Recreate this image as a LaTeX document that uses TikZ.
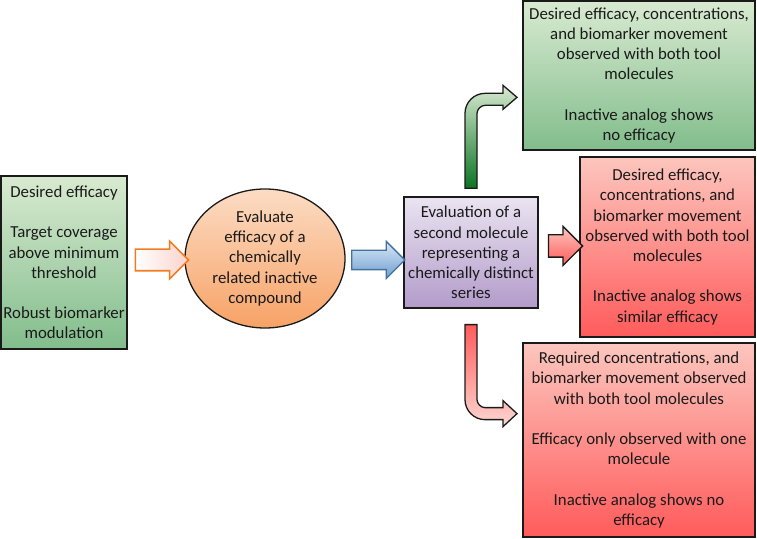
\documentclass[tikz,border=0pt]{standalone}
\usepackage{fontspec}
\setmainfont{Carlito}
\usepackage{tikz}
\usetikzlibrary{calc,shapes.geometric,shapes.arrows}
\definecolor{ink}{HTML}{1A1A1A}
\definecolor{greentop}{HTML}{D8EAD0}
\definecolor{greenbot}{HTML}{82BD8C}
\definecolor{peachtop}{HTML}{FCDCC4}
\definecolor{peachbot}{HTML}{F7A266}
\definecolor{lilactop}{HTML}{EAE4F1}
\definecolor{lilacbot}{HTML}{B39BCA}
\definecolor{redtop}{HTML}{FCC6BE}
\definecolor{redbot}{HTML}{FF5B5B}
\definecolor{orangeline}{HTML}{F27C22}
\definecolor{orangefill}{HTML}{FBD3CB}
\definecolor{blueline}{HTML}{41719C}
\definecolor{bluetop}{HTML}{D8E7F6}
\definecolor{bluebot}{HTML}{6E9FD0}
\definecolor{darkgreen}{HTML}{0A7424}
\newcommand{\boxfont}{\fontsize{16.8}{20.2}\selectfont}
\tikzset{
  box/.style={draw=ink, line width=1.3pt, align=center, inner sep=0pt, text=ink, font=\boxfont},
  greenbox/.style={box, top color=greentop, bottom color=greenbot},
  redbox/.style={box, top color=redtop, bottom color=redbot},
  lilacbox/.style={box, top color=lilactop, bottom color=lilacbot},
  peachblob/.style={box, ellipse, top color=peachtop, bottom color=peachbot},
  fatarrow/.style={single arrow, inner xsep=0pt, inner ysep=10pt, single arrow head extend=8pt, line width=1.3pt},
  bentarrow/.style={draw=ink, line width=1.3pt, line join=miter},
}

\begin{document}
\begin{tikzpicture}[x=1pt,y=1pt]
  \useasboundingbox (0,0) rectangle (757,538);

  \node[greenbox, minimum width=126pt, minimum height=173pt] (start) at (64,275.5)
    {Desired efficacy\\[20.2pt]Target coverage\\above minimum\\threshold\\[20.2pt]Robust biomarker\\modulation};
  \node[peachblob, minimum width=160pt, minimum height=139pt] (inactive) at (265,279.5)
    {Evaluate\\efficacy of a\\chemically\\related inactive\\compound};
  \node[lilacbox, minimum width=134pt, minimum height=111pt] (second) at (471,285.5)
    {Evaluation of a\\second molecule\\representing a\\chemically distinct\\series};

  \node[greenbox, minimum width=232pt, minimum height=149pt] (both) at (639,462.5)
    {Desired efficacy, concentrations,\\and biomarker movement\\observed with both tool\\molecules\\[20.2pt]Inactive analog shows\\no efficacy};
  \node[redbox, minimum width=175pt, minimum height=180pt] (similar) at (667.5,291)
    {Desired efficacy,\\concentrations, and\\biomarker movement\\observed with both tool\\molecules\\[20.2pt]Inactive analog shows\\similar efficacy};
  \node[redbox, minimum width=232pt, minimum height=194pt] (onlyone) at (639,98)
    {Required concentrations, and\\biomarker movement observed\\with both tool molecules\\[20.2pt]Efficacy only observed with one\\molecule\\[20.2pt]Inactive analog shows no\\efficacy};

  % straight block arrows
  \node[fatarrow, draw=orangeline, line width=1.6pt, left color=white, right color=orangefill, minimum height=53pt] (toinactive) at (156.5,278) {};
  \node[fatarrow, draw=blueline, inner ysep=9pt, single arrow head extend=9pt, top color=bluetop, bottom color=bluebot, minimum height=53pt] (tosecond) at (373.5,278) {};
  \node[fatarrow, draw=ink, inner ysep=10.5pt, single arrow head extend=8.5pt, top color=redtop, bottom color=redbot, minimum height=34pt] (tosimilar) at (560,292) {};

  % bent arrows
  \path[bentarrow, top color=greentop, bottom color=darkgreen]
    ($(second.north)+(-6,8)$) -- ++(0,75) .. controls +(0,11) and +(-11,0) .. ++(20,20)
    -- ++(18,0) -- ++(0,8) -- ++(14,-12) -- ++(-14,-12) -- ++(0,4) -- ++(-18,0)
    .. controls +(-4,0) and +(0,4) .. ++(-8,-8) -- ++(0,-75) -- cycle;
  \path[bentarrow, top color=redbot, bottom color=redtop!70!white]
    ($(second.south)+(-6,-16)$) -- ++(0,-75) .. controls +(0,-11) and +(-11,0) .. ++(20,-20)
    -- ++(18,0) -- ++(0,-7) -- ++(14,13) -- ++(-14,13) -- ++(0,-7) -- ++(-18,0)
    .. controls +(-4,0) and +(0,-4) .. ++(-8,8) -- ++(0,75) -- cycle;
\end{tikzpicture}
\end{document}
